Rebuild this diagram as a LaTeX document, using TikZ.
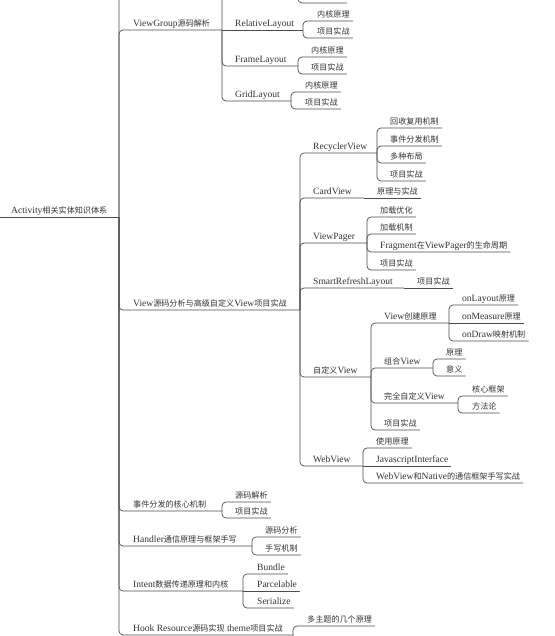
\documentclass[tikz,border=0pt]{standalone}
\usepackage{fontspec}
\setmainfont{Liberation Serif}[Scale=1.06]
\newfontfamily\cjk[Scale=0.9]{Noto Sans CJK SC}
\newcommand\zh[1]{{\cjk #1}}
\tikzset{
  topic/.style={anchor=south west, inner xsep=3pt, inner ysep=0pt, text height=7pt, text depth=3pt, text=black!80},
  link/.style={draw=black!70, line width=0.7pt, rounded corners=4pt}
}
\begin{document}
\begin{tikzpicture}[x=1pt, y=-1pt, font=\fontsize{9}{10}\selectfont]
\useasboundingbox (0,0) rectangle (554,636); \clip (0,0) rectangle (554,636);
\coordinate (root-w) at (0,217); \coordinate (root-j) at (119,217); \coordinate (more-top) at (130,-40);
\node[topic] (root) at (8,217) {Activity\zh{相关实体知识体系}};
\draw[link] (root-w) -- (root-j); \draw[link] (root-j) |- (more-top);

\node[topic] (vg) at (130,30) {ViewGroup\zh{源码解析}}; \coordinate (vg-j) at (222,30); \draw[link] (root-j) |- (vg-j);
\coordinate (ll-j) at (298,-12); \draw[link] (vg-j) |- (ll-j);
\node[topic] (ll2) at (308,3) {\zh{项目实战}}; \draw[link] (ll-j) |- (ll2.south east);
\node[topic] (rl) at (232,30) {RelativeLayout}; \coordinate (rl-j) at (303,30); \draw[link] (vg-j) -- (rl-j);
\node[topic] (rl1) at (314,21) {\zh{内核原理}}; \node[topic] (rl2) at (314,38) {\zh{项目实战}};
\draw[link] (rl-j) |- (rl1.south east); \draw[link] (rl-j) |- (rl2.south east);
\node[topic] (fl) at (232,66) {FrameLayout}; \coordinate (fl-j) at (298,66); \draw[link] (vg-j) |- (fl-j);
\node[topic] (fl1) at (308,57) {\zh{内核原理}}; \node[topic] (fl2) at (308,74) {\zh{项目实战}};
\draw[link] (fl-j) |- (fl1.south east); \draw[link] (fl-j) |- (fl2.south east);
\node[topic] (gl) at (232,101) {GridLayout}; \coordinate (gl-j) at (291,101); \draw[link] (vg-j) |- (gl-j);
\node[topic] (gl1) at (302,92) {\zh{内核原理}}; \node[topic] (gl2) at (302,109) {\zh{项目实战}};
\draw[link] (gl-j) |- (gl1.south east); \draw[link] (gl-j) |- (gl2.south east);

\node[topic] (vw) at (130,310) {View\zh{源码分析与高级自定义}View\zh{项目实战}}; \coordinate (vw-j) at (300,310); \draw[link] (root-j) |- (vw-j);
\node[topic] (rv) at (310,153) {RecyclerView}; \coordinate (rv-j) at (377,153); \draw[link] (vw-j) |- (rv-j);
\node[topic] (rv1) at (387,128) {\zh{回收复用机制}}; \node[topic] (rv2) at (387,146) {\zh{事件分发机制}};
\node[topic] (rv3) at (387,163) {\zh{多种布局}}; \node[topic] (rv4) at (387,181) {\zh{项目实战}};
\draw[link] (rv-j) |- (rv1.south east); \draw[link] (rv-j) |- (rv2.south east); \draw[link] (rv-j) |- (rv3.south east); \draw[link] (rv-j) |- (rv4.south east);
\node[topic] (cv) at (310,198) {CardView}; \coordinate (cv-j) at (364,198); \draw[link] (vw-j) |- (cv-j);
\node[topic] (cv1) at (374,198) {\zh{原理与实战}}; \draw[link] (cv-j) -- (cv1.south east);
\node[topic] (vp) at (310,243) {ViewPager}; \coordinate (vp-j) at (367,243); \draw[link] (vw-j) |- (vp-j);
\node[topic] (vp1) at (377,217) {\zh{加载优化}}; \node[topic] (vp2) at (377,234) {\zh{加载机制}};
\node[topic] (vp3) at (377,252) {Fragment\zh{在}ViewPager\zh{的生命周期}}; \node[topic] (vp4) at (377,270) {\zh{项目实战}};
\draw[link] (vp-j) |- (vp1.south east); \draw[link] (vp-j) |- (vp2.south east); \draw[link] (vp-j) |- (vp3.south east); \draw[link] (vp-j) |- (vp4.south east);
\node[topic] (sr) at (310,288) {SmartRefreshLayout}; \coordinate (sr-j) at (404,288); \draw[link] (vw-j) |- (sr-j);
\node[topic] (sr1) at (414,288) {\zh{项目实战}}; \draw[link] (sr-j) -- (sr1.south east);
\node[topic] (cu) at (310,377) {\zh{自定义}View}; \coordinate (cu-j) at (371,377); \draw[link] (vw-j) |- (cu-j);
\node[topic] (cr) at (381,323) {View\zh{创建原理}}; \coordinate (cr-j) at (449,323); \draw[link] (cu-j) |- (cr-j);
\node[topic] (cr1) at (459,305) {onLayout\zh{原理}}; \node[topic] (cr2) at (459,323) {onMeasure\zh{原理}}; \node[topic] (cr3) at (459,341) {onDraw\zh{映射机制}};
\draw[link] (cr-j) |- (cr1.south east); \draw[link] (cr-j) -- (cr2.south east); \draw[link] (cr-j) |- (cr3.south east);
\node[topic] (cb) at (381,368) {\zh{组合}View}; \coordinate (cb-j) at (433,368); \draw[link] (cu-j) |- (cb-j);
\node[topic] (cb1) at (443,359) {\zh{原理}}; \node[topic] (cb2) at (443,376) {\zh{意义}};
\draw[link] (cb-j) |- (cb1.south east); \draw[link] (cb-j) |- (cb2.south east);
\node[topic] (cf) at (381,403) {\zh{完全自定义}View}; \coordinate (cf-j) at (458,403); \draw[link] (cu-j) |- (cf-j);
\node[topic] (cf1) at (469,396) {\zh{核心框架}}; \node[topic] (cf2) at (469,413) {\zh{方法论}};
\draw[link] (cf-j) |- (cf1.south east); \draw[link] (cf-j) |- (cf2.south east);
\node[topic] (cu4) at (381,430) {\zh{项目实战}}; \draw[link] (cu-j) |- (cu4.south east);
\node[topic] (wv) at (310,466) {WebView}; \coordinate (wv-j) at (363,466); \draw[link] (vw-j) |- (wv-j);
\node[topic] (wv1) at (373,448) {\zh{使用原理}}; \node[topic] (wv2) at (373,466) {JavascriptInterface};
\node[topic] (wv3) at (373,483) {WebView\zh{和}Native\zh{的通信框架手写实战}};
\draw[link] (wv-j) |- (wv1.south east); \draw[link] (wv-j) -- (wv2.south east); \draw[link] (wv-j) |- (wv3.south east);

\node[topic] (ev) at (130,511) {\zh{事件分发的核心机制}}; \coordinate (ev-j) at (222,511); \draw[link] (root-j) |- (ev-j);
\node[topic] (ev1) at (232,502) {\zh{源码解析}}; \node[topic] (ev2) at (232,518) {\zh{项目实战}};
\draw[link] (ev-j) |- (ev1.south east); \draw[link] (ev-j) |- (ev2.south east);
\node[topic] (hd) at (130,546) {Handler\zh{通信原理与框架手写}}; \coordinate (hd-j) at (252,546); \draw[link] (root-j) |- (hd-j);
\node[topic] (hd1) at (262,537) {\zh{源码分析}}; \node[topic] (hd2) at (262,555) {\zh{手写机制}};
\draw[link] (hd-j) |- (hd1.south east); \draw[link] (hd-j) |- (hd2.south east);
\node[topic] (it) at (130,591) {Intent\zh{数据传递原理和内核}}; \coordinate (it-j) at (243,591); \draw[link] (root-j) |- (it-j);
\node[topic] (it1) at (254,574) {Bundle}; \node[topic] (it2) at (254,591) {Parcelable}; \node[topic] (it3) at (254,608) {Serialize};
\draw[link] (it-j) |- (it1.south east); \draw[link] (it-j) -- (it2.south east); \draw[link] (it-j) |- (it3.south east);
\node[topic] (hk) at (130,635) {Hook Resource\zh{源码实现} theme\zh{项目实战}}; \coordinate (hk-j) at (293,635); \draw[link] (root-j) |- (hk-j);
\node[topic] (hk1) at (304,626) {\zh{多主题的几个原理}}; \coordinate (hk-more) at (304,660);
\draw[link] (hk-j) |- (hk1.south east); \draw[link] (hk-j) |- (hk-more);
\end{tikzpicture}
\end{document}
